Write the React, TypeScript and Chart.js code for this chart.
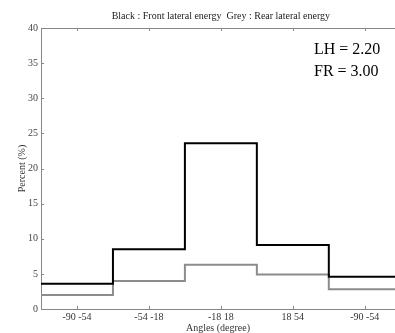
import React, { useEffect, useRef } from 'react';
import { Chart, registerables } from 'chart.js';

Chart.register(...registerables);

const binLabels = ['-90 -54', '-54 -18', '-18 18', '18 54', '-90 -54'];
const binCenters = [0.5, 1.5, 2.5, 3.5, 4.5];
const frontLateral = [3.6, 8.5, 23.6, 9.1, 4.6];
const rearLateral = [2.0, 4.0, 6.3, 4.9, 2.8];
const yTicks = [0, 5, 10, 15, 20, 25, 30, 35, 40];
const titleText = 'Black : Front lateral energy  Grey : Rear lateral energy';
const annotationLines = ['LH = 2.20', 'FR = 3.00'];
const xTitle = 'Angles (degree)';
const yTitle = 'Percent (%)';

const FONT = "'Liberation Serif', 'Times New Roman', serif";

function stepPoints(values: number[]) {
  const pts = values.map((v, i) => ({ x: i, y: v }));
  pts.push({ x: values.length, y: values[values.length - 1] });
  return pts;
}

const framePlugin = {
  id: 'frame',
  afterDraw(chart: any) {
    const { ctx, chartArea } = chart;
    const xs = chart.scales.x;
    const ys = chart.scales.y;
    ctx.save();
    ctx.strokeStyle = '#888';
    ctx.lineWidth = 1;
    // top border
    ctx.beginPath();
    ctx.moveTo(chartArea.left, Math.round(chartArea.top) + 0.5);
    ctx.lineTo(chartArea.right, Math.round(chartArea.top) + 0.5);
    ctx.stroke();
    // x tick marks (inward, top & bottom)
    binCenters.forEach((v) => {
      const px = Math.round(xs.getPixelForValue(v)) + 0.5;
      ctx.beginPath();
      ctx.moveTo(px, chartArea.bottom);
      ctx.lineTo(px, chartArea.bottom - 3);
      ctx.moveTo(px, chartArea.top);
      ctx.lineTo(px, chartArea.top + 3);
      ctx.stroke();
    });
    // y tick marks (inward, left)
    yTicks.forEach((v) => {
      const py = Math.round(ys.getPixelForValue(v)) + 0.5;
      ctx.beginPath();
      ctx.moveTo(chartArea.left, py);
      ctx.lineTo(chartArea.left + 3, py);
      ctx.stroke();
    });
    // title
    ctx.fillStyle = '#222';
    ctx.font = `10px ${FONT}`;
    ctx.textAlign = 'center';
    ctx.textBaseline = 'middle';
    ctx.fillText(titleText, xs.getPixelForValue(2.5), 16);
    // annotations
    ctx.fillStyle = '#000';
    ctx.font = `16px ${FONT}`;
    ctx.textAlign = 'left';
    annotationLines.forEach((t, i) => {
      ctx.fillText(t, chartArea.right - 81, chartArea.top + 22 + i * 22);
    });
    ctx.restore();
  },
};

export default function App() {
  const ref = useRef<HTMLCanvasElement>(null);
  useEffect(() => {
    document.body.style.margin = '0';
    const chart = new Chart(ref.current as HTMLCanvasElement, {
      type: 'line',
      data: {
        datasets: [
          {
            label: 'Front lateral energy',
            data: stepPoints(frontLateral),
            stepped: 'before',
            borderColor: '#000',
            borderWidth: 2,
            pointRadius: 0,
            fill: false,
          },
          {
            label: 'Rear lateral energy',
            data: stepPoints(rearLateral),
            stepped: 'before',
            borderColor: '#8c8c8c',
            borderWidth: 2,
            pointRadius: 0,
            fill: false,
          },
        ],
      },
      options: {
        animation: false,
        responsive: false,
        layout: { padding: { top: 28, left: 0, right: 0, bottom: 0 } },
        plugins: { legend: { display: false }, tooltip: { enabled: false } },
        scales: {
          x: {
            type: 'linear',
            min: 0,
            max: 4.92,
            afterBuildTicks: (s: any) => {
              s.ticks = binCenters.map((v) => ({ value: v }));
            },
            afterFit: (s: any) => {
              s.height = 24;
            },
            grid: { display: false, drawTicks: false },
            border: { display: true, color: '#888', width: 1 },
            ticks: {
              autoSkip: false,
              maxRotation: 0,
              padding: 2,
              color: '#333',
              font: { family: FONT, size: 10 },
              callback: (_v: any, i: number) => binLabels[i],
            },
            title: {
              display: true,
              text: xTitle,
              color: '#333',
              font: { family: FONT, size: 10 },
              padding: { top: 0, bottom: -1 },
            },
          },
          y: {
            type: 'linear',
            min: 0,
            max: 40,
            afterBuildTicks: (s: any) => {
              s.ticks = yTicks.map((v) => ({ value: v }));
            },
            afterFit: (s: any) => {
              s.width = 41;
            },
            grid: { display: false, drawTicks: false },
            border: { display: true, color: '#888', width: 1 },
            ticks: {
              padding: 3,
              color: '#444',
              font: { family: FONT, size: 10 },
            },
            title: {
              display: true,
              text: yTitle,
              color: '#333',
              font: { family: FONT, size: 10 },
              padding: { top: 16, bottom: 0 },
            },
          },
        },
      },
      plugins: [framePlugin],
    } as any);
    return () => chart.destroy();
  }, []);
  return (
    <div style={{ position: 'fixed', left: 0, top: 0, width: 395, height: 333, background: '#fff' }}>
      <canvas ref={ref} width={395} height={333} />
    </div>
  );
}
